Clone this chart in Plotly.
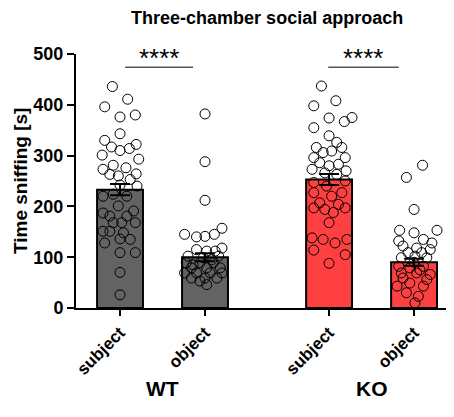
import plotly.graph_objects as go

# ---- data ----
groups = ["WT", "KO"]
conditions = ["subject", "object", "subject", "object"]
positions = [0, 1, 2.46, 3.46]
means = [233, 100, 253, 90]
sems = [11, 8, 11, 7]
bar_colors = ["#636363", "#636363", "#FF4040", "#FF4040"]

wt_subject = [436, 396, 411, 376, 380, 343, 330, 317, 310, 314, 322, 301, 293, 281, 273, 276,
              263, 264, 260, 253, 240, 242, 220, 224, 220, 187, 201, 191, 181, 181, 168, 168,
              168, 151, 151, 148, 128, 136, 135, 109, 109, 70, 26]
wt_subject_jit = [-0.09, -0.18, 0.09, 0.0, 0.18, 0.0, -0.18, -0.10, 0.0, 0.11, 0.19, -0.21, 0.22,
                  -0.08, -0.20, 0.07, -0.12, 0.19, -0.02, 0.12, 0.20, 0.0, -0.20, -0.08, 0.08,
                  -0.20, -0.02, 0.16, -0.12, 0.08, -0.08, 0.02, 0.18, -0.20, -0.12, 0.04, -0.18,
                  0.0, 0.12, 0.0, 0.18, 0.0, 0.0]

wt_object = [382, 288, 212, 157, 145, 140, 141, 145, 118, 115, 112, 112, 102, 99, 102, 89, 89, 89,
             79, 79, 79, 69, 69, 69, 69, 59, 59, 59, 53, 46, 95, 85]
wt_object_jit = [0.0, 0.0, 0.0, 0.20, -0.24, -0.10, 0.0, 0.11, 0.20, -0.10, 0.02, 0.12, -0.20,
                 -0.02, 0.16, -0.22, -0.06, 0.10, -0.16, 0.02, 0.18, -0.24, -0.10, 0.06, 0.20,
                 -0.16, 0.0, 0.14, -0.06, 0.02, 0.08, -0.14]

ko_subject = [437, 398, 408, 374, 367, 375, 355, 339, 316, 326, 316, 306, 309, 296, 296, 286, 280,
              283, 273, 270, 266, 263, 247, 250, 240, 227, 220, 227, 207, 204, 197, 194, 197, 188,
              168, 138, 135, 128, 135, 114, 105, 88]
ko_subject_jit = [-0.09, -0.18, 0.08, 0.0, 0.18, 0.27, -0.18, 0.0, -0.15, 0.09, 0.15, -0.07, 0.03,
                  -0.18, 0.19, -0.11, 0.0, 0.11, -0.20, 0.20, -0.05, 0.09, -0.18, 0.19, -0.03,
                  -0.18, 0.03, 0.15, -0.11, 0.11, -0.18, -0.05, 0.19, 0.05, 0.0, -0.20, -0.07,
                  0.07, 0.21, -0.18, 0.19, 0.0]

ko_object = [281, 257, 194, 153, 148, 153, 132, 135, 128, 122, 118, 115, 109, 109, 99, 102, 99, 82,
             79, 82, 69, 69, 66, 59, 56, 43, 49, 43, 30, 23, 10, 90, 75]
ko_object_jit = [0.10, -0.09, 0.0, -0.17, 0.0, 0.27, -0.18, 0.11, 0.21, -0.13, 0.03, 0.19, -0.07,
                 0.09, -0.15, 0.01, 0.15, -0.18, -0.05, 0.11, -0.15, 0.03, 0.19, -0.13, 0.15,
                 -0.20, -0.05, 0.11, -0.09, 0.05, 0.01, 0.0, 0.07]

points = [wt_subject, wt_object, ko_subject, ko_object]
jitters = [wt_subject_jit, wt_object_jit, ko_subject_jit, ko_object_jit]

sig_label = "****"
sig_y = 474
sig_spans = [(0.06, 0.86), (2.45, 3.28)]

FONT = "Liberation Sans, Arial, sans-serif"

fig = go.Figure()
fig.add_trace(go.Bar(
    x=positions, y=means, width=0.54,
    marker=dict(color=bar_colors, line=dict(color="black", width=2)),
    showlegend=False,
))

for pos, vals, jit in zip(positions, points, jitters):
    fig.add_trace(go.Scatter(
        x=[pos + j for j in jit], y=vals, mode="markers",
        marker=dict(symbol="circle-open", size=10, color="black", line=dict(width=1)),
        showlegend=False, cliponaxis=False,
    ))

fig.add_trace(go.Scatter(
    x=positions, y=means, mode="markers",
    marker=dict(size=1, color="rgba(0,0,0,0)"),
    error_y=dict(type="data", array=sems, color="black", thickness=2, width=10),
    showlegend=False,
))

for x0, x1 in sig_spans:
    fig.add_shape(type="line", xref="x", yref="y", x0=x0, x1=x1, y0=sig_y, y1=sig_y,
                  line=dict(color="#555555", width=1.5))
    fig.add_annotation(x=(x0 + x1) / 2, y=sig_y, xref="x", yref="y", yshift=9,
                       text=sig_label, showarrow=False,
                       font=dict(family=FONT, size=26, color="black"))

group_centers = [(positions[0] + positions[1]) / 2, (positions[2] + positions[3]) / 2]
for g, c in zip(groups, group_centers):
    fig.add_annotation(x=c, y=-0.37, xref="x", yref="paper", text=g, showarrow=False,
                       font=dict(family=FONT, size=21, color="black", weight="bold"))

fig.add_annotation(x=0, y=0.5, xref="paper", yref="paper", xshift=-56,
                   xanchor="center", yanchor="middle",
                   text="Time sniffing [s]", textangle=-90, showarrow=False,
                   font=dict(family=FONT, size=19, color="black", weight="bold"))

fig.update_layout(
    width=446, height=409,
    margin=dict(l=68, r=0, t=46, b=109),
    plot_bgcolor="white", paper_bgcolor="white",
    title=dict(text="Three-chamber social approach", x=0.581, xanchor="center",
               y=0.9756, yanchor="middle",
               font=dict(family=FONT, size=18, color="black", weight="bold")),
    xaxis=dict(range=[-0.518, 3.93], tickvals=positions, ticktext=conditions,
               tickangle=-45, showline=True, linecolor="black", linewidth=2,
               ticks="outside", ticklen=6, tickwidth=2, tickcolor="black",
               showgrid=False, zeroline=False, automargin=False,
               tickfont=dict(family=FONT, size=17, color="black", weight="bold")),
    yaxis=dict(range=[0, 500], tickvals=[0, 100, 200, 300, 400, 500],
               showline=True, linecolor="black", linewidth=2,
               ticks="outside", ticklen=7, tickwidth=2, tickcolor="black",
               showgrid=False, zeroline=False, automargin=False,
               tickfont=dict(family=FONT, size=18, color="black", weight="bold")),
)

fig.write_html("out.html")
